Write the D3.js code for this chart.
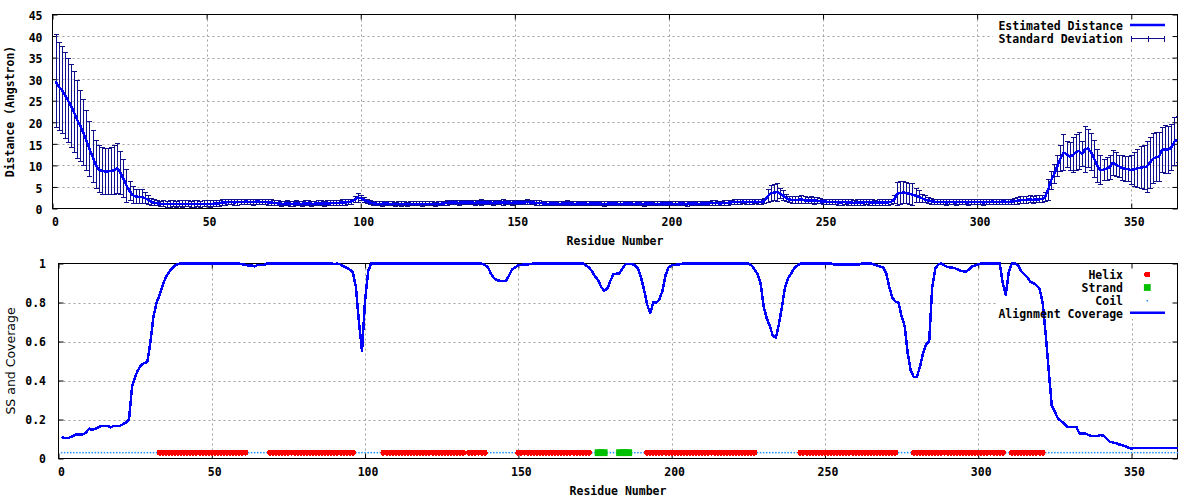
<!DOCTYPE html>
<html><head><meta charset="utf-8">
<script src="https://cdn.jsdelivr.net/npm/d3@7"></script>
<style>
body{margin:0;background:#fff;}
svg{display:block;}
.tick text{font-family:"DejaVu Sans Mono",monospace;font-weight:bold;font-size:11.5px;fill:#000;}
.lbl{font-family:"DejaVu Sans Mono",monospace;font-weight:bold;font-size:11.5px;fill:#000;}
</style></head><body>
<svg id="chart" width="1200" height="500"></svg>
<script>
// ---------- DATA ----------
const xTickValues = [0, 50, 100, 150, 200, 250, 300, 350];
const topYTicks = [0, 5, 10, 15, 20, 25, 30, 35, 40, 45];
const botYTicks = [0, 0.2, 0.4, 0.6, 0.8, 1];
const botYTickLabels = ["0", "0.2", "0.4", "0.6", "0.8", "1"];
const topLegend = ["Estimated Distance", "Standard Deviation"];
const botLegend = ["Helix", "Strand", "Coil", "Alignment Coverage"];

// estimated distance per residue (1..365)
const distance = [
 29.5,28.3,27.5,26.3,25.1,23.8,22.3,20.6,19.2,17.6,
 15.8,13.8,12.0,10.2,9.1,8.7,8.6,8.6,8.7,8.9,
 9.3,8.3,6.9,5.3,4.1,3.1,2.8,2.7,2.7,2.4,
 2.0,1.6,1.3,1.2,1.1,1.1,1.0,1.1,1.1,1.0,
 1.1,1.0,1.1,1.1,1.0,1.1,1.1,1.0,1.1,1.1,
 1.0,1.1,1.2,1.2,1.4,1.4,1.5,1.5,1.4,1.5,
 1.5,1.5,1.6,1.5,1.5,1.6,1.6,1.5,1.5,1.4,
 1.4,1.3,1.2,1.1,1.1,1.2,1.1,1.1,1.2,1.1,
 1.1,1.2,1.2,1.1,1.1,1.2,1.2,1.1,1.2,1.2,
 1.3,1.3,1.3,1.4,1.4,1.5,1.6,2.0,2.5,2.4,
 2.0,1.7,1.4,1.2,1.1,1.1,1.1,1.2,1.1,1.1,
 1.0,1.1,1.1,1.1,1.0,1.1,1.1,1.1,1.1,1.0,
 1.1,1.1,1.1,1.0,1.1,1.1,1.2,1.3,1.4,1.4,
 1.4,1.3,1.4,1.4,1.4,1.4,1.3,1.4,1.4,1.4,
 1.4,1.4,1.3,1.4,1.4,1.4,1.4,1.4,1.3,1.4,
 1.4,1.4,1.4,1.5,1.4,1.4,1.3,1.3,1.2,1.1,
 1.1,1.2,1.2,1.1,1.1,1.2,1.2,1.2,1.1,1.1,
 1.2,1.2,1.1,1.1,1.2,1.2,1.2,1.1,1.1,1.1,
 1.2,1.2,1.1,1.1,1.1,1.2,1.2,1.1,1.1,1.2,
 1.1,1.1,1.2,1.2,1.1,1.1,1.1,1.2,1.2,1.2,
 1.1,1.1,1.1,1.2,1.1,1.1,1.2,1.2,1.1,1.1,
 1.2,1.2,1.2,1.3,1.3,1.2,1.2,1.3,1.3,1.4,
 1.5,1.5,1.5,1.6,1.5,1.5,1.5,1.6,1.5,1.5,
 1.8,2.8,3.5,3.7,3.8,3.5,3.0,2.4,2.1,2.0,
 1.9,2.0,2.1,1.9,1.8,1.9,1.8,1.8,1.7,1.6,
 1.6,1.5,1.5,1.5,1.4,1.4,1.5,1.4,1.4,1.3,
 1.4,1.4,1.4,1.5,1.4,1.4,1.3,1.4,1.4,1.4,
 1.4,1.5,2.0,3.4,3.6,3.7,3.6,3.4,3.2,3.0,
 2.7,2.4,2.1,1.9,1.7,1.6,1.5,1.5,1.5,1.4,
 1.5,1.5,1.4,1.5,1.5,1.5,1.4,1.5,1.5,1.5,
 1.5,1.4,1.5,1.5,1.6,1.5,1.5,1.6,1.6,1.5,
 1.6,1.7,1.8,1.9,2.0,2.0,2.1,2.0,2.1,2.1,
 2.2,2.6,4.3,6.5,8.0,9.8,11.5,13.0,12.6,12.0,
 12.4,13.0,13.4,12.6,13.7,13.9,13.0,11.5,9.9,8.9,
 9.0,9.2,9.6,10.6,10.2,9.8,9.4,9.2,9.1,8.9,
 9.1,9.3,9.5,9.6,9.7,10.6,11.5,11.9,12.0,13.6,
 13.7,13.6,14.2,15.5,16.0
];

// standard deviation per residue (1..365)
const stdDev = [
 10.8,10.2,10.0,10.0,9.8,9.6,9.4,9.0,8.2,7.6,
 7.0,6.4,6.0,5.6,5.5,5.4,5.4,5.4,5.4,5.6,
 5.8,5.0,4.4,3.8,2.2,1.9,1.6,1.6,1.6,1.2,
 1.0,0.8,0.7,0.6,0.6,0.7,0.7,0.8,0.7,0.7,
 0.7,0.8,0.7,0.7,0.7,0.8,0.7,0.7,0.7,0.7,
 0.8,0.7,0.7,0.7,0.6,0.6,0.6,0.6,0.6,0.7,
 0.6,0.6,0.6,0.6,0.7,0.6,0.6,0.6,0.6,0.6,
 0.6,0.6,0.6,0.6,0.5,0.6,0.6,0.6,0.6,0.5,
 0.6,0.6,0.6,0.6,0.5,0.6,0.6,0.6,0.6,0.6,
 0.6,0.6,0.6,0.6,0.6,0.6,0.6,0.7,1.0,0.6,
 0.6,0.5,0.5,0.5,0.5,0.5,0.6,0.5,0.5,0.5,
 0.5,0.5,0.6,0.5,0.5,0.5,0.5,0.5,0.5,0.6,
 0.5,0.5,0.5,0.5,0.5,0.5,0.5,0.5,0.5,0.5,
 0.5,0.6,0.5,0.5,0.5,0.5,0.5,0.5,0.6,0.5,
 0.5,0.5,0.5,0.5,0.5,0.6,0.5,0.5,0.5,0.5,
 0.5,0.5,0.5,0.6,0.5,0.5,0.5,0.5,0.5,0.5,
 0.5,0.5,0.5,0.5,0.5,0.5,0.6,0.5,0.5,0.5,
 0.5,0.5,0.5,0.5,0.5,0.5,0.5,0.5,0.6,0.5,
 0.5,0.5,0.5,0.5,0.5,0.5,0.5,0.5,0.5,0.5,
 0.5,0.6,0.5,0.5,0.5,0.5,0.5,0.5,0.5,0.5,
 0.5,0.5,0.5,0.5,0.5,0.6,0.5,0.5,0.5,0.5,
 0.5,0.5,0.5,0.5,0.5,0.5,0.5,0.5,0.5,0.5,
 0.5,0.6,0.5,0.5,0.5,0.5,0.5,0.5,0.5,0.5,
 0.6,1.5,1.9,1.8,2.1,1.2,1.2,0.8,0.7,0.8,
 0.8,0.8,0.9,0.8,0.7,0.8,0.8,0.7,0.6,0.6,
 0.6,0.6,0.6,0.6,0.6,0.6,0.6,0.6,0.6,0.6,
 0.6,0.6,0.6,0.6,0.6,0.6,0.6,0.6,0.6,0.6,
 0.6,0.6,0.9,2.6,2.6,2.5,2.4,2.5,2.6,1.6,
 1.4,0.9,0.8,0.7,0.7,0.6,0.6,0.6,0.6,0.6,
 0.6,0.6,0.6,0.6,0.6,0.6,0.6,0.6,0.6,0.6,
 0.6,0.6,0.6,0.6,0.6,0.6,0.6,0.6,0.6,0.6,
 0.6,0.7,0.8,0.8,0.8,0.8,0.8,0.8,0.8,0.8,
 0.8,1.0,2.4,2.0,2.3,2.4,3.0,4.1,3.0,3.3,
 4.0,4.2,4.3,2.9,5.3,4.5,4.3,4.3,3.9,3.3,
 2.4,2.6,2.8,2.9,2.8,2.5,2.8,2.9,2.9,3.4,
 4.0,4.5,4.9,5.1,5.9,5.9,5.8,5.7,5.7,5.3,
 5.6,5.4,5.4,5.6,5.3
];

// alignment coverage per residue (1..365)
const coverage = [
 0.111,0.104,0.104,0.110,0.118,0.124,0.124,0.124,0.133,0.153,
 0.147,0.152,0.160,0.167,0.167,0.167,0.160,0.167,0.167,0.167,
 0.176,0.184,0.200,0.370,0.420,0.455,0.480,0.490,0.495,0.600,
 0.730,0.800,0.840,0.890,0.930,0.955,0.975,0.990,0.998,1.000,
 1,1,1,1,1,1,1,1,1,1,
 1,1,1,1,1,1,1,1,1,0.995,
 0.993,0.990,0.990,0.985,0.993,0.993,0.993,1,1,1,
 1,1,1,1,1,1,1,1,1,1,
 1,1,1,1,1,1,1,1,1,0.997,
 1.000,0.995,0.985,0.978,0.969,0.956,0.880,0.700,0.550,0.810,
 0.960,1,1,1,1,1,1,1,1,1,
 1,1,1,1,1,1,1,1,1,1,
 1,1,1,1,1,1,1,1,1,1,
 1,1,1,1,1,1,1,1,0.993,0.983,
 0.950,0.925,0.915,0.911,0.911,0.911,0.940,0.970,0.980,0.991,
 0.993,0.995,0.995,0.998,1,1,1,1,1,1,
 1,1,1,1,1,1,1,1,1,1,
 1,0.990,0.980,0.960,0.935,0.915,0.880,0.860,0.870,0.910,
 0.945,0.948,0.950,0.975,0.997,0.997,0.997,0.990,0.975,0.930,
 0.865,0.790,0.745,0.800,0.800,0.815,0.860,0.940,0.980,0.991,
 0.993,0.995,0.997,1,1,1,1,1,1,1,
 1,1,1,1,1,1,1,1,1,1,
 1,1,1,1,1,0.992,0.970,0.945,0.900,0.780,
 0.720,0.680,0.630,0.620,0.690,0.780,0.880,0.925,0.950,0.975,
 0.990,1,1,1,1,1,1,1,1,1,
 1,1,0.995,0.995,0.995,0.995,0.995,0.995,0.995,0.995,
 0.995,1,1,1,1,0.995,0.990,0.985,0.980,0.950,
 0.880,0.825,0.805,0.800,0.730,0.680,0.540,0.450,0.418,0.420,
 0.470,0.540,0.585,0.600,0.880,0.975,0.995,1.000,0.990,0.982,
 0.980,0.978,0.972,0.965,0.960,0.958,0.970,0.985,0.990,0.995,
 1,1,1,1,1,1,1,0.900,0.840,0.960,
 1.000,1.000,0.990,0.960,0.945,0.930,0.905,0.900,0.888,0.870,
 0.800,0.640,0.450,0.270,0.240,0.205,0.192,0.180,0.162,0.162,
 0.162,0.162,0.128,0.128,0.128,0.120,0.116,0.116,0.116,0.120,
 0.116,0.100,0.085,0.082,0.078,0.072,0.068,0.062,0.056,0.051,
 0.055,0.055,0.055,0.055,0.055,0.055,0.055,0.055,0.055,0.055,
 0.055,0.055,0.055,0.055,0.055
];

// secondary structure (residue ranges, inclusive); everything else is coil
const helixRanges = [[33,61],[69,96],[106,132],[134,139],[150,173],[192,227],[242,273],[279,308],[311,321]];
const strandRanges = [[176,178],[183,186]];
const ssLevel = 0.03;
const proteinLength = 365;

// ---------- DRAW ----------
const svg = d3.select("#chart");
const gridColor = "#a0a0a0";
const barColor = "#10108c";
const lineColor = "#0000ff";

const residues = distance.map((d, i) => i + 1);
const inRanges = (r, ranges) => ranges.some(([a, b]) => r >= a && r <= b);
const allRes = d3.range(1, proteinLength + 1);
const helixRes = allRes.filter(r => inRanges(r, helixRanges));
const strandRes = allRes.filter(r => inRanges(r, strandRanges));
const coilRes = allRes.filter(r => !inRanges(r, helixRanges) && !inRanges(r, strandRanges));

function panel(opts) {
  const {x, y, xTicks, yTicks, yFmt, ylabel, ylabelFont, ylabelX, keyRect, yPad, yDy, xlabelY} = opts;
  const g = svg.append("g");
  const [x0, x1] = x.range();
  const [y0, y1] = y.range(); // y0 bottom, y1 top
  // grid
  g.append("g").selectAll("line").data(xTicks.filter(v => v > x.domain()[0] && v < x.domain()[1]))
    .join("line").attr("x1", d => Math.round(x(d)) + 0.5).attr("x2", d => Math.round(x(d)) + 0.5)
    .attr("y1", y1).attr("y2", y0).attr("stroke", gridColor).attr("stroke-dasharray", "2,3");
  g.append("g").selectAll("line").data(yTicks.filter(v => v > y.domain()[0] && v < y.domain()[1]))
    .join("line").attr("y1", d => Math.round(y(d)) + 0.5).attr("y2", d => Math.round(y(d)) + 0.5)
    .attr("x1", x0).attr("x2", x1).attr("stroke", gridColor).attr("stroke-dasharray", "2,3");
  // key background
  g.append("rect").attr("x", keyRect[0]).attr("y", keyRect[1]).attr("width", keyRect[2]).attr("height", keyRect[3]).attr("fill", "#fff");
  // axes
  const ax = g.append("g").attr("transform", `translate(0,${y0})`)
    .call(d3.axisBottom(x).tickValues(xTicks).tickSize(-5).tickPadding(9.3).tickFormat(d3.format("d")));
  ax.selectAll("text").attr("dx", 2.5);
  g.append("g").attr("transform", `translate(0,${y1})`)
    .call(d3.axisTop(x).tickValues(xTicks).tickSize(-5).tickFormat(""));
  const ay = g.append("g").attr("transform", `translate(${x0},0)`)
    .call(d3.axisLeft(y).tickValues(yTicks).tickSize(-5).tickPadding(yPad).tickFormat(yFmt));
  ay.selectAll("text").attr("dy", yDy);
  g.append("g").attr("transform", `translate(${x1},0)`)
    .call(d3.axisRight(y).tickValues(yTicks).tickSize(-5).tickFormat(""));
  g.selectAll(".domain").remove();
  g.selectAll(".tick line").attr("stroke", "#000");
  // border
  g.append("rect").attr("x", x0).attr("y", y1).attr("width", x1 - x0).attr("height", y0 - y1)
    .attr("fill", "none").attr("stroke", "#000").attr("stroke-width", 1);
  // labels
  g.append("text").attr("class", "lbl").attr("x", (x0 + x1) / 2).attr("y", xlabelY)
    .attr("text-anchor", "middle").text("Residue Number");
  g.append("text").attr("transform", `translate(${ylabelX},${(y0 + y1) / 2}) rotate(-90)`)
    .attr("text-anchor", "middle").attr("dy", "0.35em")
    .style("font-family", ylabelFont.family).style("font-weight", ylabelFont.weight)
    .style("font-size", ylabelFont.size).text(ylabel);
  return g;
}

// ===== TOP PANEL =====
const xT = d3.scaleLinear().domain([0, proteinLength]).range([52.5, 1177.5]);
const yT = d3.scaleLinear().domain([0, 45]).range([208.5, 14.5]);
const gTop = panel({x: xT, y: yT, xTicks: xTickValues, yTicks: topYTicks, yFmt: d3.format("d"),
  ylabel: "Distance (Angstron)", ylabelFont: {family: "DejaVu Sans Mono", weight: "bold", size: "11.5px"},
  ylabelX: 10, keyRect: [993, 15, 184, 31], yPad: 10, yDy: "0.45em", xlabelY: 245});

svg.append("clipPath").attr("id", "clipTop").append("rect")
  .attr("x", 52.5).attr("y", 14.5).attr("width", 1125).attr("height", 194);
const dataTop = svg.append("g").attr("clip-path", "url(#clipTop)");
const bars = dataTop.append("g").attr("stroke", barColor).attr("stroke-width", 1).attr("shape-rendering", "crispEdges");
residues.forEach((r, i) => {
  const xp = Math.round(xT(r)) + 0.5, lo = yT(distance[i] - stdDev[i]), hi = yT(distance[i] + stdDev[i]);
  bars.append("line").attr("x1", xp).attr("x2", xp).attr("y1", lo).attr("y2", hi);
  bars.append("line").attr("x1", xp - 2.5).attr("x2", xp + 2.5).attr("y1", lo).attr("y2", lo);
  bars.append("line").attr("x1", xp - 2.5).attr("x2", xp + 2.5).attr("y1", hi).attr("y2", hi);
});
dataTop.append("path").datum(distance)
  .attr("d", d3.line().x((d, i) => xT(residues[i])).y(d => yT(d)))
  .attr("fill", "none").attr("stroke", lineColor).attr("stroke-width", 2.5)
  .attr("stroke-linejoin", "round").attr("shape-rendering", "crispEdges");

// top legend
const legTop = svg.append("g");
legTop.selectAll("text").data(topLegend).join("text").attr("class", "lbl")
  .attr("x", 1123).attr("y", (d, i) => 30 + i * 13.3).attr("text-anchor", "end").text(d => d);
legTop.append("line").attr("x1", 1130).attr("x2", 1165).attr("y1", 25).attr("y2", 25)
  .attr("stroke", lineColor).attr("stroke-width", 2.5);
const ly = 38.5;
legTop.append("g").attr("stroke", barColor).attr("stroke-width", 1).attr("shape-rendering", "crispEdges").call(s => {
  s.append("line").attr("x1", 1131).attr("x2", 1165).attr("y1", ly).attr("y2", ly);
  s.append("line").attr("x1", 1131.5).attr("x2", 1131.5).attr("y1", ly - 3).attr("y2", ly + 3);
  s.append("line").attr("x1", 1164.5).attr("x2", 1164.5).attr("y1", ly - 3).attr("y2", ly + 3);
  s.append("line").attr("x1", 1148.5).attr("x2", 1148.5).attr("y1", ly - 3).attr("y2", ly + 3);
});

// ===== BOTTOM PANEL =====
const xB = d3.scaleLinear().domain([0, proteinLength]).range([58.5, 1177.5]);
const yB = d3.scaleLinear().domain([0, 1]).range([458.5, 263.5]);
const gBot = panel({x: xB, y: yB, xTicks: xTickValues, yTicks: botYTicks,
  yFmt: (d, i) => botYTickLabels[i],
  ylabel: "SS and Coverage", ylabelFont: {family: "DejaVu Sans", weight: "normal", size: "12.5px"},
  ylabelX: 11, keyRect: [998, 264, 179, 55], yPad: 12.5, yDy: "0.37em", xlabelY: 495});

const ssG = svg.append("g");
ssG.selectAll("rect.coil").data(coilRes).join("rect").attr("class", "coil")
  .attr("x", d => xB(d) - 0.75).attr("y", yB(ssLevel) - 0.75).attr("width", 1.5).attr("height", 1.5)
  .attr("fill", "#1e90ff");
ssG.selectAll("circle.helix").data(helixRes).join("circle").attr("class", "helix")
  .attr("cx", d => xB(d)).attr("cy", yB(ssLevel)).attr("r", 3).attr("fill", "#ff0000")
  .attr("shape-rendering", "crispEdges");
ssG.selectAll("rect.strand").data(strandRes).join("rect").attr("class", "strand")
  .attr("x", d => xB(d) - 3.4).attr("y", yB(ssLevel) - 3.4).attr("width", 6.8).attr("height", 6.8)
  .attr("fill", "#00c000");

svg.append("path").datum(coverage)
  .attr("d", d3.line().x((d, i) => xB(i + 1)).y(d => yB(d)))
  .attr("fill", "none").attr("stroke", lineColor).attr("stroke-width", 2.5)
  .attr("stroke-linejoin", "round").attr("shape-rendering", "crispEdges");

// bottom legend
const legBot = svg.append("g");
legBot.selectAll("text").data(botLegend).join("text").attr("class", "lbl")
  .attr("x", 1123).attr("y", (d, i) => 279 + i * 13).attr("text-anchor", "end").text(d => d);
legBot.append("circle").attr("cx", 1147.3).attr("cy", 274.5).attr("r", 3).attr("fill", "#ff0000").attr("shape-rendering", "crispEdges");
legBot.append("rect").attr("x", 1147.3 - 3.4).attr("y", 287.5 - 3.4).attr("width", 6.8).attr("height", 6.8).attr("fill", "#00c000");
legBot.append("rect").attr("x", 1146.5).attr("y", 300).attr("width", 1.5).attr("height", 1.5).attr("fill", "#1e90ff");
legBot.append("line").attr("x1", 1130).attr("x2", 1165).attr("y1", 312.7).attr("y2", 312.7)
  .attr("stroke", lineColor).attr("stroke-width", 2.5);
</script>
</body></html>
